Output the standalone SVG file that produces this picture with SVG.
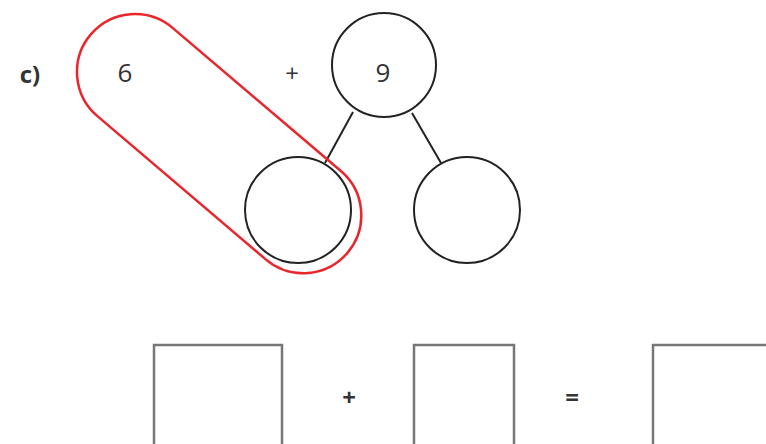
<svg xmlns="http://www.w3.org/2000/svg" width="766" height="444" viewBox="0 0 766 444">
<style>
.t{font-family:"Open Sans","Liberation Sans",sans-serif;fill:#333;text-anchor:middle}
.c{fill:#fff;stroke:#222;stroke-width:2}
.b{fill:#fff;stroke:#777;stroke-width:2.5}
.l{stroke:#222;stroke-width:2;fill:none}
</style>
<rect width="766" height="444" fill="#fff"/>
<text class="t" x="30" y="83" font-size="24" font-weight="bold">c)</text>
<g id="connectors">
<line class="l" x1="353" y1="112" x2="325" y2="163"/>
<line class="l" x1="412" y1="113" x2="441" y2="163"/>
</g>
<g id="top"><circle class="c" cx="384" cy="65" r="52"/><text class="t" x="383" y="82" font-size="26">9</text></g>
<g id="left"><circle class="c" cx="298" cy="210" r="53"/></g>
<g id="right"><circle class="c" cx="467" cy="210" r="53"/></g>
<g id="six"><text class="t" x="125" y="82" font-size="26">6</text></g>
<text class="t" x="292" y="82" font-size="24">+</text>
<g id="loop"><rect transform="translate(135,72) rotate(40.4)" x="-58" y="-58" width="337" height="116" rx="58" fill="none" stroke="#e8262b" stroke-width="2.5"/></g>
<g id="box1"><rect class="b" x="154" y="345" width="128" height="120"/></g>
<text class="t" x="349" y="406" font-size="24" font-weight="bold">+</text>
<g id="box2"><rect class="b" x="414" y="345" width="100" height="120"/></g>
<text class="t" x="572" y="406" font-size="24" font-weight="bold">=</text>
<g id="box3"><rect class="b" x="653" y="345" width="140" height="120"/></g>
</svg>
